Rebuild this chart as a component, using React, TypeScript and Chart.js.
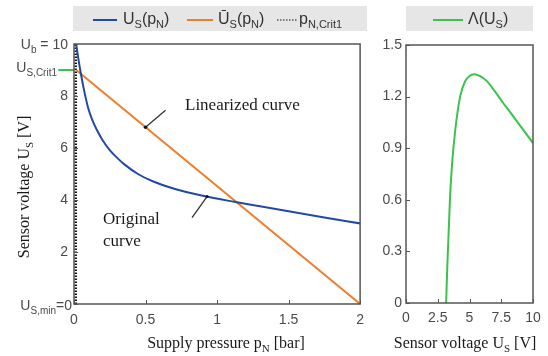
import React, { useEffect, useRef } from 'react';
import { Chart, registerables } from 'chart.js';

Chart.register(...registerables);

// ---- data (left panel) ----
const pressure = [0.015, 0.03, 0.05, 0.075, 0.1, 0.13, 0.16, 0.2, 0.25, 0.3, 0.35, 0.45, 0.55, 0.7, 0.9, 1.12, 1.3, 1.5, 1.75, 2.0];
const sensorVoltage = [10, 9.45, 8.8, 8.1, 7.52, 7.05, 6.69, 6.3, 5.92, 5.63, 5.38, 4.99, 4.72, 4.43, 4.16, 3.93, 3.76, 3.57, 3.33, 3.1];
const linPressure = [0.015, 2];
const linVoltage = [9, 0];
const critPressure = [0.012, 0.012];
const critVoltage = [0, 10];
const critMarkPressure = [-0.11, 0];
const critMarkVoltage = [9, 9];
const xTicksLeft = [0, 0.5, 1, 1.5, 2];
const yTicksLeft = [0, 2, 4, 6, 8, 10];
const linAnnot = [0.5, 6.8];
const origAnnot = [0.93, 4.13];

// ---- data (right panel) ----
const lambdaVoltage = [3.16, 3.26, 3.47, 3.63, 3.87, 4.26, 4.66, 5.0, 5.37, 5.8, 6.37, 7.0, 7.68, 8.3, 9.0, 10];
const lambdaValue = [0, 0.23, 0.62, 0.81, 1.0, 1.2, 1.29, 1.32, 1.33, 1.32, 1.29, 1.23, 1.16, 1.1, 1.03, 0.93];
const xTicksRight = [0, 2.5, 5, 7.5, 10];
const yTicksRight = [0, 0.3, 0.6, 0.9, 1.2, 1.5];

const BLUE = '#2249a8';
const ORANGE = '#f07d2a';
const GREEN = '#3cc24e';
const FRAME = '#555555';
const TICKCOL = '#4a4a4a';
const SANS = '"Liberation Sans", Arial, sans-serif';
const SERIF = '"Liberation Serif", "Times New Roman", serif';

type Part = [string, boolean?];

function drawRich(
  ctx: CanvasRenderingContext2D,
  parts: Part[],
  x: number,
  y: number,
  align: 'left' | 'right' | 'center',
  size: number,
  family: string,
  color: string
) {
  const sub = Math.round(size * 0.68);
  let total = 0;
  const widths: number[] = [];
  for (const [t, s] of parts) {
    ctx.font = `${s ? sub : size}px ${family}`;
    const w = ctx.measureText(t).width;
    widths.push(w);
    total += w;
  }
  let cx = align === 'left' ? x : align === 'right' ? x - total : x - total / 2;
  ctx.fillStyle = color;
  ctx.textAlign = 'left';
  ctx.textBaseline = 'alphabetic';
  parts.forEach(([t, s], i) => {
    ctx.font = `${s ? sub : size}px ${family}`;
    const base = y + size * 0.35 + (s ? size * 0.3 : 0);
    ctx.fillText(t, cx, base);
    cx += widths[i];
  });
}

function frameAndTicks(chart: any, xt: number[], yt: number[]) {
  const ctx = chart.ctx as CanvasRenderingContext2D;
  const { left, right, top, bottom } = chart.chartArea;
  const xs = chart.scales.x;
  const ys = chart.scales.y;
  ctx.save();
  ctx.strokeStyle = FRAME;
  ctx.lineWidth = 1;
  ctx.beginPath();
  for (const v of xt) {
    const px = Math.round(xs.getPixelForValue(v)) + 0.5;
    ctx.moveTo(px, bottom);
    ctx.lineTo(px, bottom - 4);
  }
  for (const v of yt) {
    const py = Math.round(ys.getPixelForValue(v)) + 0.5;
    ctx.moveTo(left, py);
    ctx.lineTo(left + 4, py);
  }
  ctx.stroke();
  ctx.lineWidth = 1.5;
  ctx.strokeRect(left, top, right - left, bottom - top);
  ctx.restore();
}

const leftPlugin = {
  id: 'leftDecor',
  afterDraw(chart: any) {
    const ctx = chart.ctx as CanvasRenderingContext2D;
    const xs = chart.scales.x;
    const ys = chart.scales.y;
    frameAndTicks(chart, xTicksLeft, yTicksLeft);
    ctx.save();
    // special y labels
    drawRich(ctx, [['U'], ['b', true], [' = 10']], 68, ys.getPixelForValue(10), 'right', 14, SANS, TICKCOL);
    drawRich(ctx, [['U'], ['S,Crit1', true]], 57, ys.getPixelForValue(9) - 3, 'right', 14, SANS, TICKCOL);
    drawRich(ctx, [['U'], ['S,min', true], ['=0']], 72, ys.getPixelForValue(0) + 1, 'right', 14, SANS, TICKCOL);
    // axis titles
    drawRich(ctx, [['Supply pressure p'], ['N', true], [' [bar]']], 226, 342, 'center', 16, SERIF, '#1a1a1a');
    ctx.save();
    ctx.translate(23, 187);
    ctx.rotate(-Math.PI / 2);
    drawRich(ctx, [['Sensor voltage U'], ['S', true], [' [V]']], 0, 0, 'center', 16, SERIF, '#1a1a1a');
    ctx.restore();
    // legend
    ctx.fillStyle = '#e6e6e6';
    ctx.fillRect(73, 6, 294, 25);
    ctx.lineWidth = 2;
    ctx.strokeStyle = BLUE;
    ctx.beginPath(); ctx.moveTo(93, 20); ctx.lineTo(117, 20); ctx.stroke();
    drawRich(ctx, [['U'], ['S', true], ['(p'], ['N', true], [')']], 123, 18, 'left', 16, SANS, '#333');
    ctx.strokeStyle = ORANGE;
    ctx.beginPath(); ctx.moveTo(187, 20); ctx.lineTo(213, 20); ctx.stroke();
    drawRich(ctx, [['Ū'], ['S', true], ['(p'], ['N', true], [')']], 218, 18, 'left', 16, SANS, '#333');
    ctx.strokeStyle = '#111';
    ctx.lineWidth = 1.2;
    ctx.setLineDash([1.5, 1.5]);
    ctx.beginPath(); ctx.moveTo(277, 20); ctx.lineTo(297, 20); ctx.stroke();
    ctx.setLineDash([]);
    drawRich(ctx, [['p'], ['N,Crit1', true]], 299, 18, 'left', 16, SANS, '#333');
    // annotations
    const lx = xs.getPixelForValue(linAnnot[0]);
    const ly = ys.getPixelForValue(linAnnot[1]);
    const ox = xs.getPixelForValue(origAnnot[0]);
    const oy = ys.getPixelForValue(origAnnot[1]);
    ctx.strokeStyle = '#333';
    ctx.lineWidth = 1.3;
    ctx.beginPath();
    ctx.moveTo(lx, ly); ctx.lineTo(lx + 20, ly - 17);
    ctx.moveTo(ox, oy); ctx.lineTo(ox - 15, oy + 21);
    ctx.stroke();
    ctx.fillStyle = '#111';
    ctx.beginPath(); ctx.arc(lx, ly, 1.8, 0, Math.PI * 2); ctx.fill();
    ctx.beginPath(); ctx.arc(ox, oy, 1.5, 0, Math.PI * 2); ctx.fill();
    drawRich(ctx, [['Linearized curve']], 185, 104, 'left', 17, SERIF, '#1a1a1a');
    drawRich(ctx, [['Original']], 103, 218, 'left', 17, SERIF, '#1a1a1a');
    drawRich(ctx, [['curve']], 103, 240, 'left', 17, SERIF, '#1a1a1a');
    ctx.restore();
  },
};

const rightPlugin = {
  id: 'rightDecor',
  afterDraw(chart: any) {
    const ctx = chart.ctx as CanvasRenderingContext2D;
    frameAndTicks(chart, xTicksRight, yTicksRight);
    ctx.save();
    drawRich(ctx, [['Sensor voltage U'], ['S', true], [' [V]']], 93, 342, 'center', 16, SERIF, '#1a1a1a');
    ctx.fillStyle = '#e6e6e6';
    ctx.fillRect(34, 6, 127, 25);
    ctx.strokeStyle = GREEN;
    ctx.lineWidth = 2;
    ctx.beginPath(); ctx.moveTo(61, 20); ctx.lineTo(91, 20); ctx.stroke();
    drawRich(ctx, [['Λ(U'], ['S', true], [')']], 96, 18, 'left', 16, SANS, '#333');
    ctx.restore();
  },
};

const tickFont = { family: SANS, size: 14 };

export default function App() {
  const leftRef = useRef<HTMLCanvasElement>(null);
  const rightRef = useRef<HTMLCanvasElement>(null);

  useEffect(() => {
    const left = new Chart(leftRef.current!, {
      type: 'line',
      data: {
        datasets: [
          {
            label: 'U_S(p_N)',
            data: pressure.map((p, i) => ({ x: p, y: sensorVoltage[i] })),
            borderColor: BLUE,
            borderWidth: 2,
            pointRadius: 0,
            cubicInterpolationMode: 'monotone',
          },
          {
            label: 'Ū_S(p_N)',
            data: linPressure.map((p, i) => ({ x: p, y: linVoltage[i] })),
            borderColor: ORANGE,
            borderWidth: 2,
            pointRadius: 0,
            clip: false,
          },
          {
            label: 'p_N,Crit1',
            data: critPressure.map((p, i) => ({ x: p, y: critVoltage[i] })),
            borderColor: '#111',
            borderWidth: 2.5,
            borderDash: [1.5, 1.5],
            pointRadius: 0,
          },
          {
            label: 'U_S,Crit1',
            data: critMarkPressure.map((p, i) => ({ x: p, y: critMarkVoltage[i] })),
            borderColor: GREEN,
            borderWidth: 2,
            pointRadius: 0,
            clip: false,
          },
        ],
      } as any,
      options: {
        animation: false,
        responsive: false,
        maintainAspectRatio: false,
        layout: { padding: { top: 44, right: 6, bottom: 0, left: 0 } },
        plugins: { legend: { display: false }, tooltip: { enabled: false } },
        scales: {
          x: {
            type: 'linear',
            min: 0,
            max: 2,
            afterFit: (s: any) => { s.height = 52; },
            afterBuildTicks: (s: any) => { s.ticks = xTicksLeft.map((v) => ({ value: v })); },
            grid: { display: false, drawTicks: false },
            border: { display: false },
            ticks: { padding: 8, font: tickFont, color: TICKCOL, maxRotation: 0, callback: (v: any) => String(v) },
          },
          y: {
            type: 'linear',
            min: 0,
            max: 10,
            afterFit: (s: any) => { s.width = 74; },
            afterBuildTicks: (s: any) => { s.ticks = yTicksLeft.map((v) => ({ value: v })); },
            grid: { display: false, drawTicks: false },
            border: { display: false },
            ticks: { padding: 6, font: tickFont, color: TICKCOL, callback: (v: any) => (v === 0 || v === 10 ? '' : String(v)) },
          },
        },
      } as any,
      plugins: [leftPlugin],
    });

    const right = new Chart(rightRef.current!, {
      type: 'line',
      data: {
        datasets: [
          {
            label: 'Λ(U_S)',
            data: lambdaVoltage.map((u, i) => ({ x: u, y: lambdaValue[i] })),
            borderColor: GREEN,
            borderWidth: 2,
            pointRadius: 0,
            cubicInterpolationMode: 'monotone',
          },
        ],
      } as any,
      options: {
        animation: false,
        responsive: false,
        maintainAspectRatio: false,
        layout: { padding: { top: 45, right: 15, bottom: 0, left: 0 } },
        plugins: { legend: { display: false }, tooltip: { enabled: false } },
        scales: {
          x: {
            type: 'linear',
            min: 0,
            max: 10,
            afterFit: (s: any) => { s.height = 53; },
            afterBuildTicks: (s: any) => { s.ticks = xTicksRight.map((v) => ({ value: v })); },
            grid: { display: false, drawTicks: false },
            border: { display: false },
            ticks: { padding: 7, font: tickFont, color: TICKCOL, maxRotation: 0, callback: (v: any) => String(v) },
          },
          y: {
            type: 'linear',
            min: 0,
            max: 1.5,
            afterFit: (s: any) => { s.width = 34; },
            afterBuildTicks: (s: any) => { s.ticks = yTicksRight.map((v) => ({ value: v })); },
            grid: { display: false, drawTicks: false },
            border: { display: false },
            ticks: { padding: 4, font: tickFont, color: TICKCOL, callback: (v: any) => (v === 0 ? '0' : Number(v).toFixed(1)) },
          },
        },
      } as any,
      plugins: [rightPlugin],
    });

    return () => {
      left.destroy();
      right.destroy();
    };
  }, []);

  return (
    <div style={{ position: 'fixed', left: 0, top: 0, width: 548, height: 356, background: '#fff', overflow: 'hidden' }}>
      <canvas ref={leftRef} width={372} height={356} style={{ position: 'absolute', left: 0, top: 0, width: 372, height: 356 }} />
      <canvas ref={rightRef} width={176} height={356} style={{ position: 'absolute', left: 372, top: 0, width: 176, height: 356 }} />
    </div>
  );
}
